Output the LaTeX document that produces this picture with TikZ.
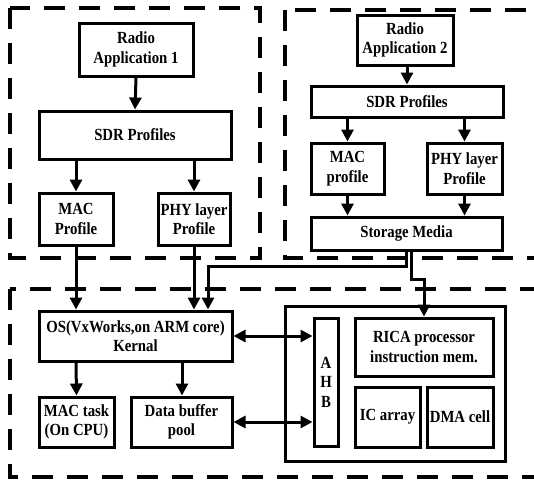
\documentclass[tikz,border=0pt]{standalone}
\usepackage{fontspec}
\setmainfont{Liberation Serif}[FakeStretch=0.87]
\usetikzlibrary{arrows.meta}
\tikzset{
  box/.style={draw,line width=3pt,inner sep=0pt,align=center,font=\fontsize{17}{19.5}\selectfont\bfseries},
  arr/.style={line width=3pt,-{Triangle[length=12pt,width=12pt]}},
  darr/.style={line width=3pt,{Triangle[length=12pt,width=12pt]}-{Triangle[length=12pt,width=12pt]}},
  region/.style={line width=3.2pt,dash pattern=on 21pt off 14pt},
}
\newcommand\bx[6]{\node[box,minimum width={#4-#2},minimum height={#5-#3}] (#1) at ({(#2+#4)/2},{(#3+#5)/2}) {#6};}
\begin{document}
\begin{tikzpicture}[x=1pt,y=-1pt]
\useasboundingbox (0,0) rectangle (534,479);
% dashed regions
\draw[region] (10,8) rectangle (260,258);
\draw[region] (285,10) rectangle (560,258);
\draw[region] (10,289) rectangle (560,477);
% left top
\bx{ra1}{79}{23}{193}{76}{Radio\\Application 1}
\bx{sdr1}{39}{111}{231}{159}{SDR Profiles}
\bx{mac1}{39}{193}{113}{245}{MAC\\Profile}
\bx{phy1}{158}{193}{230}{245}{PHY layer\\Profile}
% right top
\bx{ra2}{357}{15}{453}{65}{Radio\\Application 2}
\bx{sdr2}{311}{86}{503}{117}{SDR Profiles}
\bx{mac2}{311}{143}{384}{194}{MAC\\profile}
\bx{phy2}{427}{143}{502}{194}{PHY layer\\Profile}
\bx{sm}{311}{217}{502}{250}{Storage Media}
% bottom
\bx{os}{39}{311}{232}{361}{OS(VxWorks,on ARM core)\\Kernal}
\bx{mact}{39}{397}{114}{447}{MAC task\\(On CPU)}
\bx{dbp}{131}{397}{232}{447}{Data buffer\\pool}
\bx{big}{285}{306}{505}{461}{}
\bx{ahb}{314}{318}{338}{446}{A\\H\\B}
\bx{rica}{355}{318}{493}{376}{RICA processor\\instruction mem.}
\bx{ic}{355}{387}{420}{447}{IC array}
\bx{dma}{427}{387}{493}{447}{DMA cell}
% connectors
\draw[arr] (ra1.south) -- (sdr1.north);
\draw[arr] (mac1.north |- sdr1.south) -- (mac1.north);
\draw[arr] (phy1.north |- sdr1.south) -- (phy1.north);
\draw[arr] (ra2.south -| 407,0) -- (sdr2.north -| 407,0);
\draw[arr] (mac2.north |- sdr2.south) -- (mac2.north);
\draw[arr] (phy2.north |- sdr2.south) -- (phy2.north);
\draw[arr] (mac2.south) -- (mac2.south |- sm.north);
\draw[arr] (phy2.south) -- (phy2.south |- sm.north);
\draw[arr] (mac1.south) -- (mac1.south |- os.north);
\draw[arr] (phy1.south) -- (phy1.south |- os.north);
\coordinate (j1) at (208,266);
\draw[arr] (sm.south) |- (j1) -- (j1 |- os.north);
\coordinate (j2) at (411,279);
\coordinate (j3) at (424,279);
\draw[arr] (j2 |- sm.south) -- (j2) -- (j3) -- (j3 |- rica.north);
\draw[arr] (os.south -| mac1.south) -- (mact.north);
\draw[arr] (os.south -| 182,0) -- (dbp.north -| 182,0);
\draw[darr] (os.east) -- (os.east -| ahb.west);
\draw[darr] (dbp.east) -- (dbp.east -| ahb.west);
\end{tikzpicture}
\end{document}
